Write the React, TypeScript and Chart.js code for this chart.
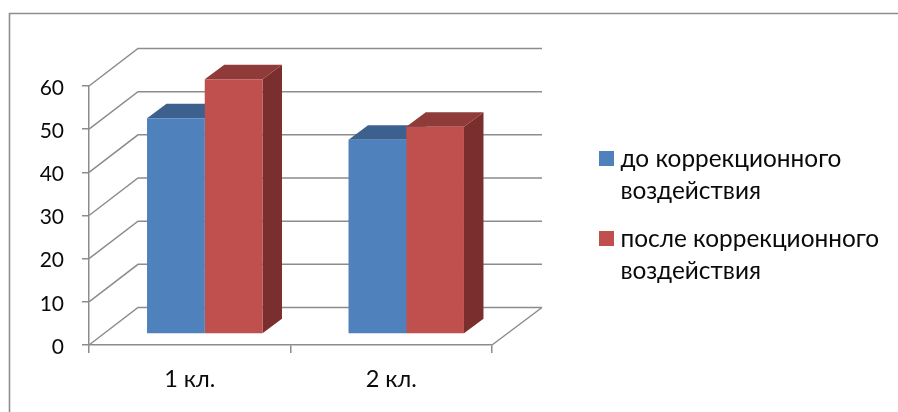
import React, { useEffect, useRef } from "react";
import { Chart, registerables } from "chart.js";

Chart.register(...registerables);

const categories = ["1 кл.", "2 кл."];
const beforeValues = [50, 45];
const afterValues = [59, 48];
const beforeLabel = ["до коррекционного", "воздействия"];
const afterLabel = ["после коррекционного", "воздействия"];
const yTicksMax = 60;
const yTickStep = 10;

const FONT = "Lato";
const VALUE_FONT_SIZE = 21;
const CATEGORY_FONT_SIZE = 23.5;
const LEGEND_FONT_SIZE = 24.4;
const TEXT = "#0a0a0a";
const LINE = "#8c8c8c";

// Oblique projection of the plot box: the back wall and the plane holding the bars.
const WALL_DX = 49;
const WALL_DY = -37.5;
const WALL_EXTRA_RIGHT = 1;
const BAR_SHIFT_X = 15;
const BAR_SHIFT_Y = -11;
const BAR_DX = 19.5;
const BAR_DY = -14.5;

const faceColors = [
  { top: "#3D618F", side: "#39587F" },
  { top: "#8F3B39", side: "#7A2F2E" },
];

const threeDPlugin = {
  id: "threeD",
  beforeDraw(chart: any) {
    const { ctx } = chart;
    ctx.save();
    ctx.strokeStyle = "#8e8e8e";
    ctx.lineWidth = 1.6;
    ctx.beginPath();
    ctx.moveTo(9.5, chart.height);
    ctx.lineTo(9.5, 13.5);
    ctx.lineTo(chart.width, 13.5);
    ctx.stroke();
    ctx.restore();
  },
  beforeDatasetsDraw(chart: any) {
    const { ctx, chartArea, scales } = chart;
    const { left, right, bottom } = chartArea;
    ctx.save();
    ctx.strokeStyle = LINE;
    ctx.lineWidth = 1.5;
    ctx.beginPath();
    for (const tick of scales.y.ticks) {
      const y = scales.y.getPixelForValue(tick.value);
      ctx.moveTo(left, y);
      ctx.lineTo(left + WALL_DX, y + WALL_DY);
      ctx.lineTo(right + WALL_DX + WALL_EXTRA_RIGHT, y + WALL_DY);
    }
    ctx.moveTo(right, bottom);
    ctx.lineTo(right + WALL_DX + WALL_EXTRA_RIGHT, bottom + WALL_DY);
    ctx.stroke();

    // Top and side faces go down first; the library paints the front faces over them.
    ctx.translate(BAR_SHIFT_X, BAR_SHIFT_Y);
    chart.data.datasets.forEach((_: unknown, index: number) => {
      const faces = faceColors[index];
      for (const bar of chart.getDatasetMeta(index).data) {
        const { x, y, base, width } = bar.getProps(["x", "y", "base", "width"], true);
        const l = x - width / 2;
        const r = x + width / 2;
        ctx.fillStyle = faces.side;
        ctx.beginPath();
        ctx.moveTo(r, y);
        ctx.lineTo(r + BAR_DX, y + BAR_DY);
        ctx.lineTo(r + BAR_DX, base + BAR_DY);
        ctx.lineTo(r, base);
        ctx.closePath();
        ctx.fill();
        ctx.fillStyle = faces.top;
        ctx.beginPath();
        ctx.moveTo(l, y);
        ctx.lineTo(l + BAR_DX, y + BAR_DY);
        ctx.lineTo(r + BAR_DX, y + BAR_DY);
        ctx.lineTo(r, y);
        ctx.closePath();
        ctx.fill();
      }
    });
    ctx.restore();
  },
  beforeDatasetDraw(chart: any) {
    chart.ctx.save();
    chart.ctx.translate(BAR_SHIFT_X, BAR_SHIFT_Y);
  },
  afterDatasetDraw(chart: any) {
    chart.ctx.restore();
  },
  afterDraw(chart: any) {
    const { ctx } = chart;
    const rows = [
      { color: chart.data.datasets[0].backgroundColor, lines: beforeLabel, boxY: 151, baselines: [167, 199] },
      { color: chart.data.datasets[1].backgroundColor, lines: afterLabel, boxY: 231, baselines: [247, 279] },
    ];
    ctx.save();
    ctx.font = `${LEGEND_FONT_SIZE}px ${FONT}`;
    ctx.textBaseline = "alphabetic";
    ctx.textAlign = "left";
    for (const row of rows) {
      ctx.fillStyle = row.color;
      ctx.fillRect(599, row.boxY, 15, 15);
      ctx.fillStyle = TEXT;
      row.lines.forEach((line, i) => ctx.fillText(line, 620.5, row.baselines[i]));
    }
    ctx.restore();
  },
};

export default function App() {
  const ref = useRef<HTMLCanvasElement>(null);

  useEffect(() => {
    const chart = new Chart(ref.current!, {
      type: "bar",
      data: {
        labels: categories,
        datasets: [
          { label: beforeLabel.join(" "), data: beforeValues, backgroundColor: "#4F81BD", clip: false },
          { label: afterLabel.join(" "), data: afterValues, backgroundColor: "#C0504D", clip: false },
        ],
      },
      options: {
        animation: false,
        responsive: false,
        devicePixelRatio: 1,
        layout: { padding: { left: 0, top: 86, right: 406, bottom: 0 } },
        datasets: { bar: { barPercentage: 1, categoryPercentage: 0.573 } },
        plugins: { legend: { display: false }, tooltip: { enabled: false } },
        scales: {
          x: {
            afterFit(scale: any) {
              scale.height = 67;
            },
            border: { display: true, color: LINE, width: 1.5 },
            grid: { drawOnChartArea: false, drawTicks: true, tickLength: 8, color: LINE, lineWidth: 1.5 },
            ticks: {
              color: TEXT,
              font: { family: FONT, size: CATEGORY_FONT_SIZE },
              padding: 12,
              maxRotation: 0,
            },
          },
          y: {
            min: 0,
            max: yTicksMax,
            afterFit(scale: any) {
              scale.width = 89;
            },
            border: { display: true, color: LINE, width: 1.5 },
            grid: { drawOnChartArea: false, drawTicks: true, tickLength: 7, color: LINE, lineWidth: 1.5 },
            ticks: {
              stepSize: yTickStep,
              color: TEXT,
              font: { family: FONT, size: VALUE_FONT_SIZE },
              padding: 18,
              labelOffset: 2,
            },
          },
        },
      },
      plugins: [threeDPlugin],
    } as any);
    return () => chart.destroy();
  }, []);

  return (
    <canvas
      ref={ref}
      width={898}
      height={412}
      style={{ position: "absolute", left: 0, top: 0, display: "block" }}
    />
  );
}
